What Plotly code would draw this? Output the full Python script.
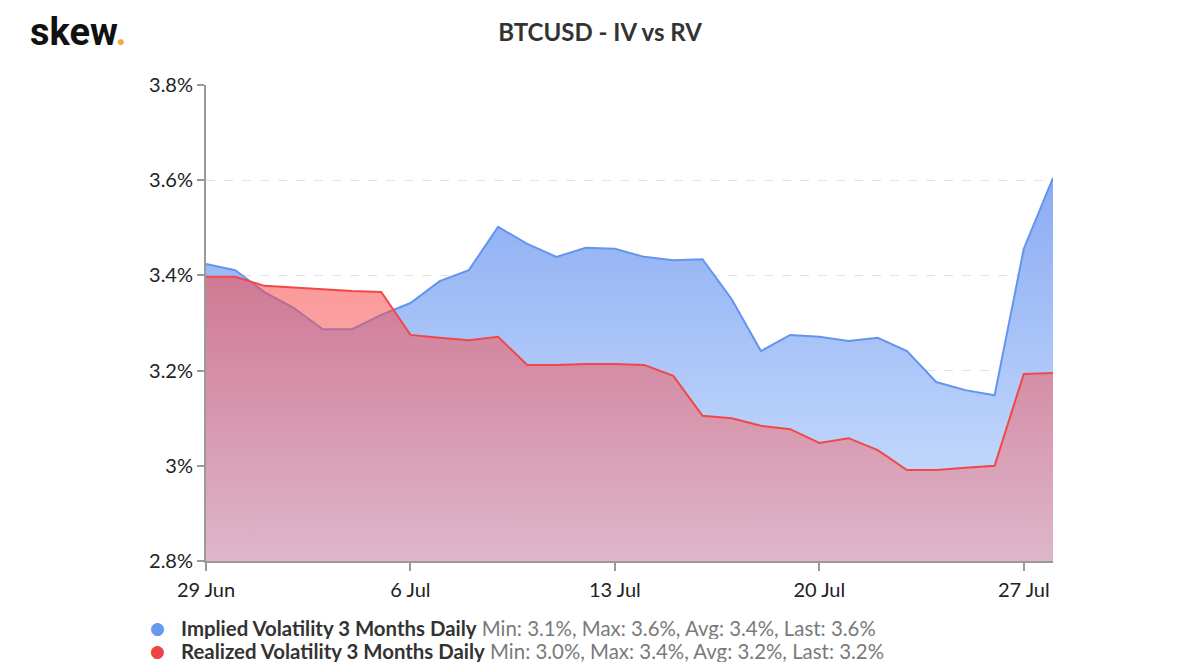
import pandas as pd
import plotly.graph_objects as go

# Daily readings, 29 Jun -> 28 Jul (values in %)
dates = pd.date_range("2020-06-29", "2020-07-28", freq="D")

implied_vol = [
    3.424, 3.411, 3.365, 3.332, 3.287, 3.287, 3.317, 3.342, 3.388, 3.411,
    3.502, 3.466, 3.439, 3.458, 3.456, 3.439, 3.432, 3.434, 3.350, 3.241,
    3.275, 3.271, 3.262, 3.269, 3.241, 3.176, 3.159, 3.148, 3.456, 3.605,
]
realized_vol = [
    3.397, 3.397, 3.378, 3.374, 3.371, 3.367, 3.365, 3.275, 3.269, 3.264,
    3.271, 3.212, 3.212, 3.214, 3.214, 3.212, 3.189, 3.105, 3.100, 3.084,
    3.077, 3.048, 3.058, 3.033, 2.991, 2.991, 2.996, 3.000, 3.193, 3.195,
]

iv_name = "Implied Volatility 3 Months Daily"
rv_name = "Realized Volatility 3 Months Daily"
iv_stats = "Min: 3.1%, Max: 3.6%, Avg: 3.4%, Last: 3.6%"
rv_stats = "Min: 3.0%, Max: 3.4%, Avg: 3.2%, Last: 3.2%"

y_ticks = [2.8, 3.0, 3.2, 3.4, 3.6, 3.8]
y_labels = ["2.8%", "3%", "3.2%", "3.4%", "3.6%", "3.8%"]
x_ticks = ["2020-06-29", "2020-07-06", "2020-07-13", "2020-07-20", "2020-07-27"]

blue_line = "#6395ee"
red_line = "#f04848"
axis_gray = "#9a9a9a"
text_dark = "#222222"
stat_gray = "#7a7a7a"

fig = go.Figure()

fig.add_trace(go.Scatter(
    x=dates, y=implied_vol, mode="lines", name=iv_name,
    line=dict(color=blue_line, width=2),
    fill="tozeroy",
    fillgradient=dict(
        type="vertical", start=2.8, stop=3.6,
        colorscale=[[0, "rgb(208,227,254)"], [1, "rgb(140,172,243)"]],
    ),
))

fig.add_trace(go.Scatter(
    x=dates, y=realized_vol, mode="lines", name=rv_name,
    line=dict(color=red_line, width=2),
    fill="tozeroy",
    fillgradient=dict(
        type="vertical", start=2.8, stop=3.4,
        colorscale=[[0, "rgba(233,146,160,0.55)"], [1, "rgba(250,68,68,0.55)"]],
    ),
))

# hand-made legend rows below the plot
legend_rows = [(iv_name, iv_stats, "#6699ee", -0.1408), (rv_name, rv_stats, "#ee4444", -0.189)]
annotations = []
for name, stats, color, ypos in legend_rows:
    annotations.append(dict(
        text=f"<span style='color:{color}'>●</span>", xref="paper", yref="paper",
        x=-0.0567, y=ypos, xanchor="center", yanchor="middle", showarrow=False,
        font=dict(family="DejaVu Sans, sans-serif", size=17),
    ))
    annotations.append(dict(
        text=f"<b>{name}</b> <span style='color:{stat_gray}'>{stats}</span>",
        xref="paper", yref="paper", x=-0.0315, y=ypos, xanchor="left", yanchor="middle",
        height=22, showarrow=False,
        font=dict(family="Lato, sans-serif", size=20.4, color="#333333"),
    ))

annotations.append(dict(
    text="<b>skew</b><b><span style='color:#f0a93a'>.</span></b>",
    xref="paper", yref="paper", x=-0.2100, y=1.112, xanchor="left", yanchor="middle",
    showarrow=False, font=dict(family="Roboto, sans-serif", size=38, color="#111111"),
))

fig.update_layout(
    width=1200, height=670,
    paper_bgcolor="white", plot_bgcolor="white",
    margin=dict(l=198, r=155, t=77, b=117),
    font=dict(family="Lato, sans-serif", size=20, color=text_dark),
    title=dict(
        text="<b>BTCUSD - IV vs RV</b>", x=592 / 1200, xanchor="center",
        y=0.964, yanchor="middle",
        font=dict(family="Lato, sans-serif", size=24, color="#333333"),
    ),
    showlegend=False,
    hovermode="x unified",
    annotations=annotations,
)

fig.update_xaxes(
    range=[dates[0], dates[-1]],
    tickvals=x_ticks, tickformat="%-d %b",
    showgrid=False, showline=True, linecolor=axis_gray, linewidth=2,
    ticks="outside", ticklen=8, tickcolor=axis_gray, tickwidth=2,
    ticklabelstandoff=2,
    tickfont=dict(size=20, color=text_dark),
)

fig.update_yaxes(
    range=[2.8, 3.8], tickvals=y_ticks, ticktext=y_labels,
    showgrid=True, gridcolor="#e2e2e2", griddash="dash", gridwidth=1,
    zeroline=False, showline=True, linecolor=axis_gray, linewidth=2,
    ticks="outside", ticklen=7, tickcolor=axis_gray, tickwidth=2,
    ticklabelstandoff=0,
    tickfont=dict(size=20, color=text_dark),
)

fig.write_html("out.html")
